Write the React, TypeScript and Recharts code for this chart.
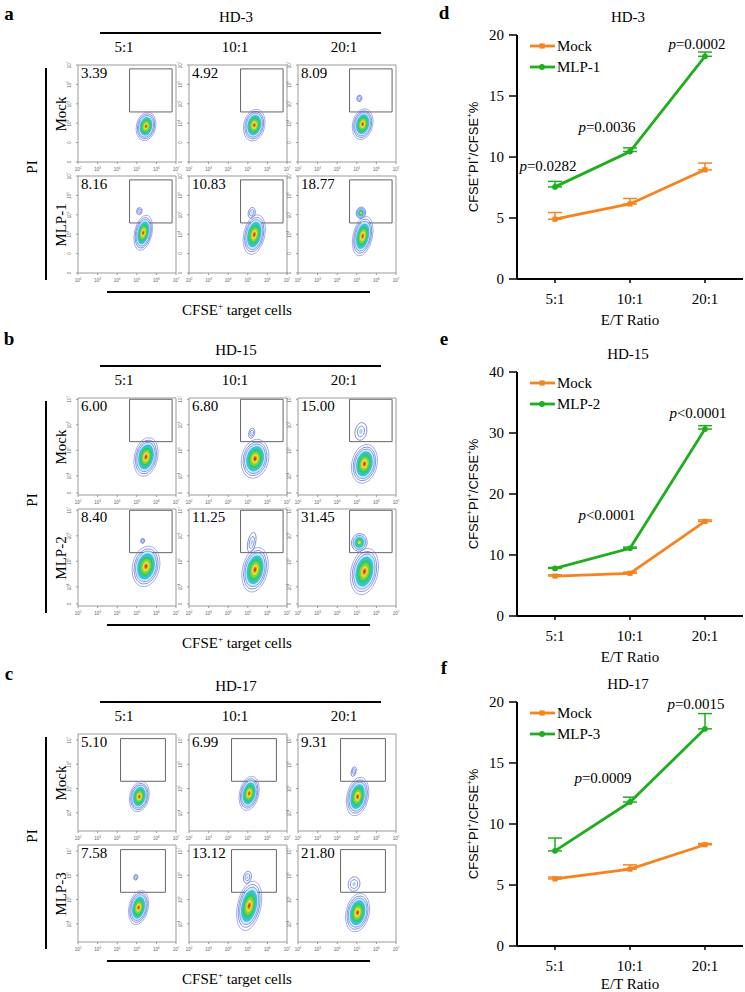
import React from 'react';
import { ScatterChart, Scatter, XAxis, YAxis, ReferenceArea, LineChart, Line, ErrorBar, LabelList } from 'recharts';

const ORANGE = '#F5841F';
const GREEN = '#1EAE1E';
const SERIF = '"Liberation Serif", "Times New Roman", serif';
const SANS = '"Liberation Sans", Arial, sans-serif';

const ratios = ['5:1', '10:1', '20:1'];

// ---- line charts (d, e, f) ----
const mockD = [4.9, 6.15, 8.95];
const mockDErr = [0.55, 0.45, 0.55];
const mlp1 = [7.55, 10.45, 18.25];
const mlp1Err = [0.45, 0.3, 0.35];
const pD = ['=0.0282', '=0.0036', '=0.0002'];
const pDY = [9.3, 12.5, 19.3];

const mockE = [6.55, 7.0, 15.5];
const mockEErr = [0.2, 0.2, 0.25];
const mlp2 = [7.8, 11.1, 30.65];
const mlp2Err = [0.15, 0.2, 0.55];
const pE = [null, '<0.0001', '<0.0001'];
const pEY = [null, 16.6, 33.3];

const mockF = [5.5, 6.3, 8.3];
const mockFErr = [0.15, 0.35, 0.1];
const mlp3 = [7.8, 11.8, 17.8];
const mlp3Err = [1.05, 0.4, 1.25];
const pF = [null, '=0.0009', '=0.0015'];
const pFY = [null, 13.8, 19.8];

// ---- flow plots (a, b, c): gated % and population centres [log x, log y, spread x, spread y, density level] ----
const pctA = ['3.39', '4.92', '8.09', '8.16', '10.83', '18.77'];
const pctB = ['6.00', '6.80', '15.00', '8.40', '11.25', '31.45'];
const pctC = ['5.10', '6.99', '9.31', '7.58', '13.12', '21.80'];

const cellsA = [
  [[5.47, 3.84, 0.43, 0.65, 3]],
  [[5.33, 3.9, 0.47, 0.72, 3]],
  [[5.3, 3.95, 0.45, 0.7, 3], [5.13, 5.28, 0.13, 0.17, 1]],
  [[5.33, 4.07, 0.39, 0.8, 3], [5.13, 5.19, 0.14, 0.18, 1]],
  [[5.33, 3.98, 0.47, 0.9, 3], [5.2, 5.1, 0.18, 0.28, 1]],
  [[5.3, 3.9, 0.43, 0.9, 3], [5.21, 5.1, 0.24, 0.3, 2]],
];
const cellsB = [
  [[5.47, 4.74, 0.52, 0.67, 3]],
  [[5.37, 4.67, 0.6, 0.67, 3], [5.2, 5.67, 0.15, 0.2, 1]],
  [[5.39, 4.47, 0.56, 0.67, 3], [5.21, 5.74, 0.3, 0.35, 1]],
  [[5.47, 4.8, 0.6, 0.7, 3], [5.3, 5.8, 0.1, 0.1, 1]],
  [[5.37, 4.67, 0.56, 0.77, 3], [5.2, 5.74, 0.2, 0.4, 1]],
  [[5.39, 4.6, 0.6, 0.8, 3], [5.13, 5.74, 0.4, 0.35, 2]],
];
const cellsC = [
  [[5.13, 4.67, 0.43, 0.55, 3]],
  [[5.07, 4.8, 0.43, 0.62, 3]],
  [[5.04, 4.67, 0.48, 0.7, 3], [4.84, 5.7, 0.12, 0.2, 1]],
  [[5.09, 4.67, 0.43, 0.62, 3], [4.95, 5.92, 0.1, 0.12, 1]],
  [[5.07, 4.74, 0.52, 0.9, 3], [4.98, 5.92, 0.2, 0.25, 1]],
  [[5.04, 4.46, 0.52, 0.7, 3], [4.86, 5.64, 0.3, 0.3, 1]],
];

const logTicks = [2, 3, 4, 5, 6, 7];

// density colour layers (scale, fill, stroke)
const LAYERS: Record<number, [number, string, string][]> = {
  3: [
    [1.15, 'none', '#6f7fe0'],
    [1, 'none', '#4455d4'],
    [0.88, '#c8ecf8', '#5a72e0'],
    [0.74, '#35c2e4', 'none'],
    [0.58, '#33c96b', 'none'],
    [0.42, '#7fd63a', 'none'],
    [0.28, '#e9e128', 'none'],
    [0.16, '#f0801e', 'none'],
    [0.08, '#e0201a', 'none'],
  ],
  2: [
    [1, 'none', '#4455d4'],
    [0.8, '#a8e2f5', '#5a72e0'],
    [0.6, '#35c2e4', 'none'],
    [0.4, '#45cd50', 'none'],
    [0.2, '#d8e030', 'none'],
  ],
  1: [
    [1, 'none', '#4455d4'],
    [0.6, 'none', '#4455d4'],
    [0.3, '#9fdcf2', 'none'],
  ],
};

const Txt = ({ x, y, size = 15, rot = 0, bold = false, font = SERIF, children }: any) => (
  <div
    style={{
      position: 'absolute',
      left: x,
      top: y,
      transform: `translate(-50%, -50%) rotate(${rot}deg)`,
      fontSize: size,
      fontFamily: font,
      fontWeight: bold ? 'bold' : 'normal',
      whiteSpace: 'nowrap',
      lineHeight: 1,
      color: '#000',
    }}
  >
    {children}
  </div>
);

const Sup = ({ children }: any) => <sup style={{ fontSize: '0.6em', lineHeight: 0 }}>{children}</sup>;

// ---------------- flow panels ----------------
const COLS = [78, 189, 298];
const ROWS = [65, 176];
const PW = 98;
const PH = 97;
const PAD = 4; // room round each mini plot so the tiny tick labels are not clipped

const blob = (pxX: number, pxY: number) => (p: any) => {
  const { cx, cy, payload } = p;
  const rx = payload.sx * pxX;
  const ry = payload.sy * pxY;
  return (
    <g transform={`rotate(12 ${cx} ${cy})`}>
      {LAYERS[payload.lv].map(([k, fill, stroke], i) => (
        <ellipse key={i} cx={cx} cy={cy} rx={rx * k} ry={ry * k} fill={fill} stroke={stroke} strokeWidth={0.6} />
      ))}
    </g>
  );
};

const xTick = ({ x, y, payload }: any) => (
  <text x={x} y={y + 5} fontSize={4.5} fontFamily={SANS} fill="#666" textAnchor="middle">
    10<tspan dy={-1.6} fontSize={3}>{payload.value}</tspan>
  </text>
);

const yTick = ({ x, y, payload }: any) => (
  <text x={x - 3} y={y} fontSize={4.5} fontFamily={SANS} fill="#666" textAnchor="middle" transform={`rotate(-90 ${x - 3} ${y})`}>
    {payload.value < 3.5 ? '0' : '10'}
    {payload.value < 3.5 ? null : <tspan dy={-1.6} fontSize={3}>{payload.value}</tspan>}
  </text>
);

function FlowPlot({ left, top, pct, cells, yDom, yTicks, gate }: any) {
  const pxX = PW / 5;
  const pxY = PH / (yDom[1] - yDom[0]);
  const data = cells.map(([x, y, sx, sy, lv]: number[]) => ({ x, y, sx, sy, lv }));
  return (
    <div style={{ position: 'absolute', left: left - 12, top: top - PAD }}>
      <ScatterChart width={PW + 12 + PAD} height={PH + 9 + PAD} margin={{ top: PAD, right: PAD, bottom: 0, left: 0 }}>
        <XAxis type="number" dataKey="x" domain={[2, 7]} ticks={logTicks} height={9} axisLine={false} tickLine={{ stroke: '#999' }} tickSize={2} tick={xTick} interval={0} />
        <YAxis type="number" dataKey="y" domain={yDom} ticks={yTicks} width={12} axisLine={false} tickLine={{ stroke: '#999' }} tickSize={2} tick={yTick} interval={0} allowDataOverflow />
        <ReferenceArea x1={2} x2={7} y1={yDom[0]} y2={yDom[1]} fill="none" stroke="#9a9a9a" strokeWidth={1} />
        <ReferenceArea x1={gate[0]} x2={gate[1]} y1={gate[2]} y2={gate[3]} fill="none" stroke="#555" strokeWidth={0.9} />
        <Scatter data={data} shape={blob(pxX, pxY)} isAnimationActive={false} />
      </ScatterChart>
      <div style={{ position: 'absolute', left: 15, top: 8 + PAD, transform: 'translateY(-50%)', fontSize: 15, fontFamily: SERIF, lineHeight: 1 }}>{pct}</div>
    </div>
  );
}

function FlowBlock({ top, letter, letterY, donor, mlpName, pcts, cells, yDom, yTicks, gate }: any) {
  const rowNames = ['Mock', mlpName];
  return (
    <div style={{ position: 'absolute', left: 0, top, width: 410, height: 330 }}>
      <Txt x={9} y={letterY} size={19} bold>{letter}</Txt>
      <Txt x={236} y={17}>{donor}</Txt>
      <div style={{ position: 'absolute', left: 100, top: 32, width: 281, height: 1.6, background: '#000' }} />
      {ratios.map((r, i) => (
        <Txt key={r} x={COLS[i] + PW / 2 - 3} y={47}>{r}</Txt>
      ))}
      <div style={{ position: 'absolute', left: 45, top: 68, width: 2, height: 212, background: '#000' }} />
      <Txt x={32} y={167} rot={-90}>PI</Txt>
      {rowNames.map((n, j) => (
        <Txt key={n} x={61} y={ROWS[j] + PH / 2} rot={-90}>{n}</Txt>
      ))}
      <div style={{ position: 'absolute', left: 107, top: 291, width: 263, height: 1.6, background: '#000' }} />
      <Txt x={237} y={310}>CFSE<Sup>+</Sup> target cells</Txt>
      {pcts.map((p: string, k: number) => (
        <FlowPlot
          key={k}
          left={COLS[k % 3]}
          top={ROWS[Math.floor(k / 3)]}
          pct={p}
          cells={cells[k]}
          yDom={yDom}
          yTicks={yTicks}
          gate={gate}
        />
      ))}
    </div>
  );
}

// ---------------- line panels ----------------
const squareDot = (p: any) => <rect key={`s${p.index}`} x={p.cx - 2.6} y={p.cy - 2.6} width={5.2} height={5.2} fill={ORANGE} />;
const roundDot = (p: any) => <circle key={`c${p.index}`} cx={p.cx} cy={p.cy} r={2.9} fill={GREEN} />;

const pLabel = (dxs: number[]) => (p: any) => {
  const { x, y, value, index } = p;
  if (value == null || y == null || isNaN(y)) return null;
  return (
    <text key={`p${index}`} x={x + dxs[index]} y={y} textAnchor="middle" dominantBaseline="central" fontSize={15} fontFamily={SERIF} fill="#000">
      <tspan fontStyle="italic">p</tspan>
      {value}
    </text>
  );
};

function LinePanel({ top, letter, letterY, title, yMax, yTicks, mock, mockErr, mlp, mlpErr, mlpName, pText, pY, pDx, etY }: any) {
  const data = ratios.map((r, i) => ({
    r,
    mock: mock[i],
    mockErr: [0, mockErr[i]],
    mlp: mlp[i],
    mlpErr: [0, mlpErr[i]],
    pY: pY[i],
    p: pText[i],
  }));
  const plotTop = 35;
  const legend = [
    ['Mock', ORANGE, 'sq'],
    [mlpName, GREEN, 'ci'],
  ];
  return (
    <div style={{ position: 'absolute', left: 420, top, width: 325, height: 330 }}>
      <div style={{ position: 'absolute', left: 0, top: 0 }}>
        <LineChart width={325} height={330} data={data} margin={{ top: plotTop, right: 2, left: 47, bottom: 0 }}>
          <XAxis
            dataKey="r"
            height={51}
            padding={{ left: 38, right: 38 }}
            axisLine={{ stroke: '#000', strokeWidth: 2 }}
            tickLine={{ stroke: '#000', strokeWidth: 1.5 }}
            tickSize={4}
            tickMargin={10}
            tick={{ fontSize: 15, fontFamily: SERIF, fill: '#000' }}
          />
          <YAxis
            type="number"
            domain={[0, yMax]}
            ticks={yTicks}
            width={50}
            axisLine={{ stroke: '#000', strokeWidth: 2 }}
            tickLine={{ stroke: '#000', strokeWidth: 1.5 }}
            tickSize={8}
            tickMargin={5}
            tick={{ fontSize: 15, fontFamily: SERIF, fill: '#000' }}
          />
          <Line type="linear" dataKey="mock" stroke={ORANGE} strokeWidth={2.8} dot={squareDot} activeDot={false} isAnimationActive={false}>
            <ErrorBar dataKey="mockErr" width={7} stroke={ORANGE} strokeWidth={1.5} direction="y" />
          </Line>
          <Line type="linear" dataKey="mlp" stroke={GREEN} strokeWidth={2.8} dot={roundDot} activeDot={false} isAnimationActive={false}>
            <ErrorBar dataKey="mlpErr" width={7} stroke={GREEN} strokeWidth={1.5} direction="y" />
          </Line>
          <Line type="linear" dataKey="pY" stroke="none" dot={false} activeDot={false} isAnimationActive={false} legendType="none">
            <LabelList dataKey="p" content={pLabel(pDx)} />
          </Line>
        </LineChart>
      </div>
      <Txt x={24} y={letterY} size={19} bold>{letter}</Txt>
      <Txt x={208} y={plotTop - 18}>{title}</Txt>
      <Txt x={53} y={plotTop + 122} size={13} rot={-90} font={SANS}>
        CFSE<Sup>+</Sup>PI<Sup>+</Sup>/CFSE<Sup>+</Sup>%
      </Txt>
      <Txt x={210} y={plotTop + 244 + etY}>E/T Ratio</Txt>
      <div style={{ position: 'absolute', left: 109, top: plotTop + 0.5, fontFamily: SERIF, fontSize: 15 }}>
        {legend.map(([name, color, kind]) => (
          <div key={name} style={{ display: 'flex', alignItems: 'center', height: 21 }}>
            <svg width={28} height={10}>
              <line x1={1} x2={26} y1={5} y2={5} stroke={color} strokeWidth={2.8} />
              {kind === 'sq' ? <rect x={10.5} y={2.4} width={5.2} height={5.2} fill={color} /> : <circle cx={13} cy={5} r={2.9} fill={color} />}
            </svg>
            <span style={{ marginLeft: 0, lineHeight: 1 }}>{name}</span>
          </div>
        ))}
      </div>
    </div>
  );
}

export default function App() {
  return (
    <div style={{ position: 'absolute', left: 0, top: 0, width: 745, height: 992, background: '#fff', overflow: 'hidden' }}>
      <FlowBlock top={0} letter="a" letterY={13} donor="HD-3" mlpName="MLP-1" pcts={pctA} cells={cellsA} yDom={[2, 7]} yTicks={logTicks} gate={[4.63, 6.8, 4.58, 6.8]} />
      <FlowBlock top={333} letter="b" letterY={5} donor="HD-15" mlpName="MLP-2" pcts={pctB} cells={cellsB} yDom={[3.25, 7.05]} yTicks={[3.33, 4, 5, 6, 7]} gate={[4.63, 6.8, 5.34, 7.0]} />
      <FlowBlock top={669} letter="c" letterY={4} donor="HD-17" mlpName="MLP-3" pcts={pctC} cells={cellsC} yDom={[3.25, 7.25]} yTicks={[4, 5, 6, 7]} gate={[4.17, 6.46, 5.3, 7.06]} />

      <LinePanel top={0} letter="d" letterY={12} title="HD-3" yMax={20} yTicks={[0, 5, 10, 15, 20]} mock={mockD} mockErr={mockDErr} mlp={mlp1} mlpErr={mlp1Err} mlpName="MLP-1" pText={pD} pY={pDY} pDx={[-7, -23, -8]} etY={41} />
      <LinePanel top={337} letter="e" letterY={1} title="HD-15" yMax={40} yTicks={[0, 10, 20, 30, 40]} mock={mockE} mockErr={mockEErr} mlp={mlp2} mlpErr={mlp2Err} mlpName="MLP-2" pText={pE} pY={pEY} pDx={[0, -23, -7]} etY={41} />
      <LinePanel top={667} letter="f" letterY={0} title="HD-17" yMax={20} yTicks={[0, 5, 10, 15, 20]} mock={mockF} mockErr={mockFErr} mlp={mlp3} mlpErr={mlp3Err} mlpName="MLP-3" pText={pF} pY={pFY} pDx={[0, -27, -9]} etY={38} />
    </div>
  );
}
